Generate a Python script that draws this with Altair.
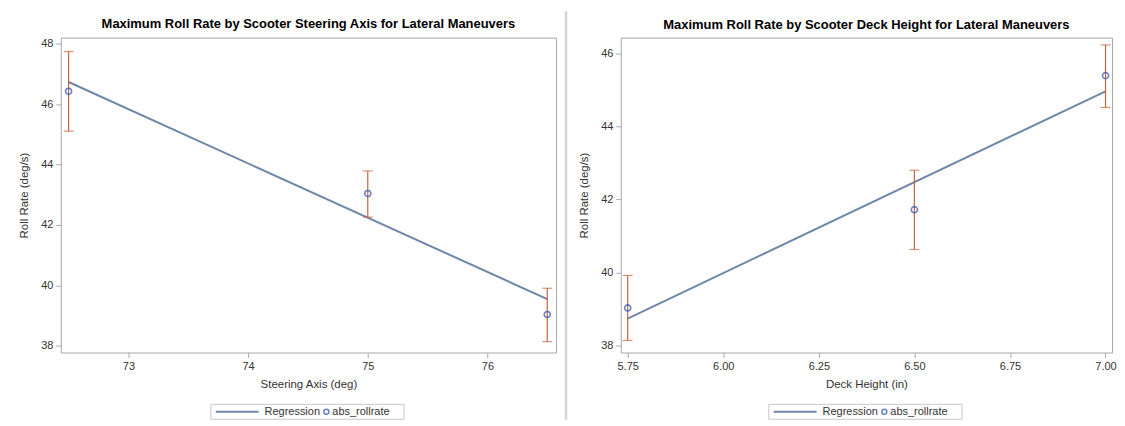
import altair as alt
import pandas as pd

# ---------------- data ----------------
steer_x = [72.5, 75.0, 76.5]
steer_mean = [46.43, 43.04, 39.03]
steer_lo = [45.11, 42.26, 38.13]
steer_hi = [47.75, 43.79, 39.90]
steer_fit_x = [72.5, 76.5]
steer_fit_y = [46.74, 39.54]

deck_x = [5.75, 6.50, 7.00]
deck_mean = [39.03, 41.72, 45.39]
deck_lo = [38.14, 40.63, 44.52]
deck_hi = [39.92, 42.80, 46.23]
deck_fit_x = [5.75, 7.00]
deck_fit_y = [38.74, 44.96]

steer_ticks = [73, 74, 75, 76]
deck_ticks = [5.75, 6.00, 6.25, 6.50, 6.75, 7.00]
steer_yticks = [38, 40, 42, 44, 46, 48]
deck_yticks = [38, 40, 42, 44, 46]

legend_labels = ["Regression", "abs_rollrate"]

# ---------------- style ----------------
FONT = "Liberation Sans"
FIT = "#6f87a9"
PT = "#2b4fb0"
ERR = "#c8643c"
FRAME = "#a8a8a8"
TXT = "#333333"
H = 316


def panel(title, xtitle, xs, mean, lo, hi, fitx, fity, xdom, ydom,
          xvals, yvals, xfmt, W, divider):
    pts = pd.DataFrame({"x": xs, "mean": mean, "lo": lo, "hi": hi})
    fit = pd.DataFrame({"x": fitx, "fit": fity})
    one = pd.DataFrame({"k": [0]})

    xsc = alt.Scale(domain=xdom, nice=False, zero=False)
    ysc = alt.Scale(domain=ydom, nice=False, zero=False)
    xax = alt.Axis(values=xvals, format=xfmt, grid=False, domain=False,
                   labelPadding=3, titlePadding=7)
    yax = alt.Axis(values=yvals, format="d", grid=False, domain=False,
                   labelPadding=3, titlePadding=11)

    def X(f):
        return alt.X(f, type="quantitative", scale=xsc, axis=xax, title=xtitle)

    def Y(f):
        return alt.Y(f, type="quantitative", scale=ysc, axis=yax,
                     title="Roll Rate (deg/s)")

    line = alt.Chart(fit).mark_line(color=FIT, strokeWidth=2).encode(
        x=X("x"), y=Y("fit"))
    bars = alt.Chart(pts).mark_rule(color=ERR, strokeWidth=1.2).encode(
        x=X("x"), y=Y("lo"), y2="hi")
    cap_lo = alt.Chart(pts).mark_tick(color=ERR, orient="horizontal",
                                      size=10, thickness=1.2).encode(
        x=X("x"), y=Y("lo"))
    cap_hi = alt.Chart(pts).mark_tick(color=ERR, orient="horizontal",
                                      size=10, thickness=1.2).encode(
        x=X("x"), y=Y("hi"))
    points = alt.Chart(pts).mark_point(shape="circle", filled=False, color=PT,
                                       size=38, strokeWidth=1.6).encode(
        x=X("x"), y=Y("mean"))

    # legend (decoration, positioned under the plot)
    L = W / 2 - 98
    ly = 375.5
    box = alt.Chart(one).mark_rect(fill="white", stroke="#c8c8c8",
                                   strokeWidth=1).encode(
        x=alt.value(L), x2=alt.value(L + 194),
        y=alt.value(ly - 7.5), y2=alt.value(ly + 7.5))
    sample = alt.Chart(one).mark_rule(color=FIT, strokeWidth=2).encode(
        x=alt.value(L + 5), x2=alt.value(L + 48), y=alt.value(ly))
    lab1 = alt.Chart(one).mark_text(align="left", baseline="middle",
                                    font=FONT, fontSize=11, color=TXT).encode(
        x=alt.value(L + 54), y=alt.value(ly), text=alt.value(legend_labels[0]))
    circ = alt.Chart(one).mark_point(shape="circle", filled=False, color=PT,
                                     size=25, strokeWidth=1.5).encode(
        x=alt.value(L + 116), y=alt.value(ly))
    lab2 = alt.Chart(one).mark_text(align="left", baseline="middle",
                                    font=FONT, fontSize=11, color=TXT).encode(
        x=alt.value(L + 122), y=alt.value(ly), text=alt.value(legend_labels[1]))

    # panel separator (full height); invisible on the right panel so both
    # panels have the same vertical extent
    sep = alt.Chart(one).mark_rule(
        color="#d4d4d4", strokeWidth=2.5,
        opacity=1 if divider else 0).encode(
        x=alt.value(W + 10 if divider else 0),
        y=alt.value(-26.5), y2=alt.value(383.5))

    return alt.layer(line, bars, cap_lo, cap_hi, points,
                     box, sample, lab1, circ, lab2, sep).properties(
        width=W, height=H,
        title=alt.TitleParams(title, frame="group", anchor="middle",
                              font=FONT, fontSize=13, fontWeight="bold",
                              color="black", offset=-21))


left = panel("Maximum Roll Rate by Scooter Steering Axis for Lateral Maneuvers",
             "Steering Axis (deg)", steer_x, steer_mean, steer_lo, steer_hi,
             steer_fit_x, steer_fit_y, [72.435, 76.573], [37.77, 48.21],
             steer_ticks, steer_yticks, "d", 497, True)

right = panel("Maximum Roll Rate by Scooter Deck Height for Lateral Maneuvers",
              "Deck Height (in)", deck_x, deck_mean, deck_lo, deck_hi,
              deck_fit_x, deck_fit_y, [5.732, 7.017], [37.81, 46.43],
              deck_ticks, deck_yticks, ".2f", 493, False)

chart = alt.hconcat(left, right, spacing=10).properties(
    padding={"left": 10, "top": 0, "right": 0, "bottom": 0},
    background="white",
).configure_view(
    stroke=FRAME, strokeWidth=1
).configure_axis(
    labelFont=FONT, labelFontSize=11, labelColor=TXT,
    titleFont=FONT, titleFontSize=11.5, titleFontWeight="normal", titleColor=TXT,
    tickColor=FRAME, tickSize=5, tickWidth=1
)

chart.save("out.html", embed_options={"renderer": "svg", "actions": False})
